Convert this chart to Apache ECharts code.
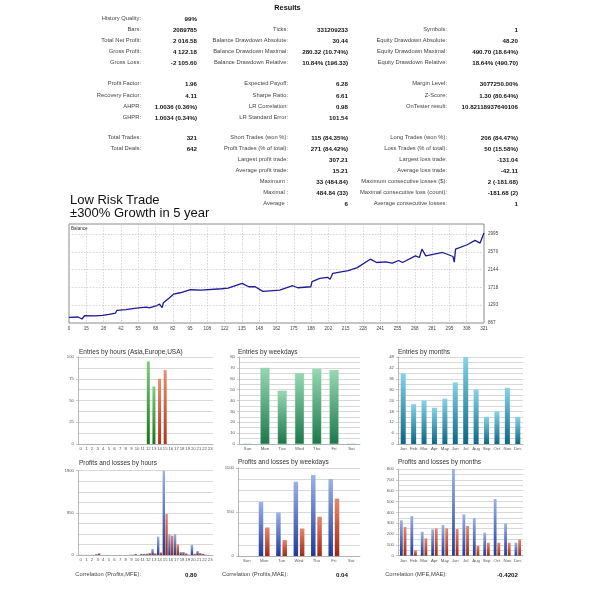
<!DOCTYPE html>
<html><head><meta charset="utf-8">
<script src="https://cdn.jsdelivr.net/npm/echarts@6/dist/echarts.min.js"></script>
<style>
html,body{margin:0;padding:0;background:#fff;}
#wrap{position:relative;width:600px;height:600px;overflow:hidden;background:#fff;font-family:"Liberation Sans",Arial,sans-serif;}
#chart{position:absolute;left:0;top:0;width:600px;height:600px;}
#txt{position:absolute;left:0;top:0;width:600px;height:600px;pointer-events:none;}
.t{position:absolute;white-space:nowrap;line-height:1;transform:translateY(-50%);}
.lab{font-size:5.8px;color:#444;}
.val{font-size:6.2px;color:#111;font-weight:bold;}
.head{font-size:7.3px;color:#111;font-weight:bold;}
.big{font-size:13px;color:#111;}
</style></head><body>
<div id="wrap"><div id="chart"></div><div id="txt"></div></div>
<script>
// ---------- report table ----------
const col1Labels = ['History Quality:','Bars:','Total Net Profit:','Gross Profit:','Gross Loss:','Profit Factor:','Recovery Factor:','AHPR:','GHPR:','Total Trades:','Total Deals:','','','','',''];
const col1Values = ['99%','2089785','2 016.58','4 122.18','-2 105.60','1.96','4.11','1.0036 (0.36%)','1.0034 (0.34%)','321','642','','','','',''];
const col2Labels = ['','Ticks:','Balance Drawdown Absolute:','Balance Drawdown Maximal:','Balance Drawdown Relative:','Expected Payoff:','Sharpe Ratio:','LR Correlation:','LR Standard Error:','Short Trades (won %):','Profit Trades (% of total):','Largest profit trade:','Average profit trade:','Maximum :','Maximal :','Average :'];
const col2Values = ['','331209233','30.44','280.32 (10.74%)','10.84% (196.33)','6.28','6.61','0.98','101.54','115 (84.35%)','271 (84.42%)','307.21','15.21','33 (484.84)','484.84 (33)','6'];
const col3Labels = ['','Symbols:','Equity Drawdown Absolute:','Equity Drawdown Maximal:','Equity Drawdown Relative:','Margin Level:','Z-Score:','OnTester result:','','Long Trades (won %):','Loss Trades (% of total):','Largest loss trade:','Average loss trade:','Maximum consecutive losses ($):','Maximal consecutive loss (count):','Average consecutive losses:'];
const col3Values = ['','1','48.20','490.70 (18.64%)','18.64% (490.70)','3077250.00%','1.30 (80.64%)','10.82118937640106','','206 (84.47%)','50 (15.58%)','-131.04','-42.11','2 (-181.68)','-181.68 (2)','1'];
const corrLabels = ['Correlation (Profits,MFE):','Correlation (Profits,MAE):','Correlation (MFE,MAE):'];
const corrValues = ['0.80','0.04','-0.4202'];
const reportTitle = 'Results';
const headline = ['Low Risk Trade','\u00b1300% Growth in 5 year'];

// ---------- balance curve ----------
const balanceTrade = [0,7,10,12,20,26,31,36,37,44,52,60,62,68,70,72,73,78,81,86,94,102,118,123,134,139,144,150,163,173,177,187,188,194,200,202,204,216,223,233,238,245,250,255,258,268,271,273,276,289,297,298,299,308,314,318,320,321];
const balanceValue = [1000,1010,963,1040,1035,1050,1075,1105,1170,1185,1225,1245,1230,1285,1317,1236,1350,1477,1558,1590,1662,1654,1686,1702,1815,1734,1734,1622,1654,1758,1710,1734,1855,1935,1959,1911,2055,2120,2192,2393,2313,2329,2297,2361,2313,2473,2433,2634,2473,2553,2457,2320,2634,2738,2842,2778,2939,3017];
const balanceXTicks = ['0','15','28','42','55','68','82','95','108','122','135','148','162','175','188','202','215','228','241','255','268','281','295','308','321'];
const balanceYTicks = [867,1293,1718,2144,2570,2995];

// ---------- distributions ----------
const hours = ['0','1','2','3','4','5','6','7','8','9','10','11','12','13','14','15','16','17','18','19','20','21','22','23'];
const entriesByHour = [0,0,0,0,0,0,0,0,0,0,0,0,95,66,75,85,0,0,0,0,0,0,0,0];
const weekdays = ['Sun','Mon','Tue','Wed','Thu','Fri','Sat'];
const entriesByWeekday = [0,70,49,65,69,68,0];
const months = ['Jan','Feb','Mar','Apr','May','Jun','Jul','Aug','Sep','Oct','Nov','Dec'];
const entriesByMonth = [39,22,24,20,25,34,48,30,15,18,31,15];
const profitByHour = [5,4,4,20,0,0,0,0,0,10,25,30,30,135,413,1900,466,473,68,40,225,90,30,0];
const lossByHour =   [3,3,3,40,0,0,0,0,0,10,5,25,45,40,60,924,436,240,68,10,30,45,10,0];
const profitByWeekday = [0,675,545,928,1012,962,0];
const lossByWeekday =   [0,356,199,343,490,718,0];
const profitByMonth = [326,366,221,243,283,800,381,348,212,523,298,120];
const lossByMonth =   [265,49,160,252,252,246,274,92,120,120,120,150];
const chartTitles = ['Entries by hours (Asia,Europe,USA)','Entries by weekdays','Entries by months','Profits and losses by hours','Profits and losses by weekdays','Profits and losses by months'];

// ---------- text layout ----------
const txt = document.getElementById('txt');
function put(text, x, y, cls, align) {
  if (!text) return;
  const s = document.createElement('span');
  s.className = 't ' + cls;
  s.textContent = text;
  if (align === 'right') s.style.right = (600 - x) + 'px';
  else if (align === 'center') { s.style.left = x + 'px'; s.style.transform = 'translate(-50%,-50%)'; }
  else s.style.left = x + 'px';
  s.style.top = y + 'px';
  txt.appendChild(s);
}
const rowY = [19,30,41,52,63,84,95.5,106.5,117.5,138,149,160,171,182,193,204];
const cols = [[141,197,col1Labels,col1Values],[288,348,col2Labels,col2Values],[447,518,col3Labels,col3Values]];
put(reportTitle, 287.5, 7.5, 'head', 'center');
cols.forEach(c => {
  rowY.forEach((y, i) => {
    put(c[2][i], c[0], y, 'lab', 'right');
    put(c[3][i], c[1], y, 'val', 'right');
  });
});
corrLabels.forEach((l, i) => {
  put(l, cols[i][0], 575, 'lab', 'right');
  put(corrValues[i], cols[i][1], 575, 'val', 'right');
});
put(headline[0], 70, 198.5, 'big', 'left');
put(headline[1], 70, 212, 'big', 'left');

// ---------- chart ----------
const G = echarts.graphic.LinearGradient;
const grad = (a, b) => new G(0, 0, 0, 1, [{offset: 0, color: a}, {offset: 1, color: b}]);
const blueG = grad('#9bb3e6', '#1d3b9e');
const redG = grad('#e8866c', '#a02a12');
const sessionColor = h => (h >= 14 ? grad('#ee8e70', '#b0321a') : (h >= 8 ? grad('#7fcf7f', '#167516') : grad('#8fb0e8', '#1d3b9e')));
const plain = v => String(v);

const chart = echarts.init(document.getElementById('chart'), null, {renderer: 'canvas'});
const fontF = '"Liberation Sans", Arial, sans-serif';
const grids = [
  {left: 69, top: 224, width: 415, height: 99, show: true, borderColor: '#8c8c8c', borderWidth: 1},
  {left: 78, top: 357, width: 135, height: 87},
  {left: 239, top: 357, width: 121, height: 87},
  {left: 398, top: 357, width: 125, height: 87},
  {left: 78, top: 470.7, width: 135, height: 84.3},
  {left: 238, top: 468, width: 122, height: 88},
  {left: 398, top: 469, width: 125, height: 86.7}
];
function smallX(i, cats) {
  return {type: 'category', gridIndex: i, data: cats,
    axisLine: {lineStyle: {color: '#a8a8a8', width: 0.8}}, axisTick: {show: false},
    axisLabel: {interval: 0, fontSize: 4.3, color: '#555', margin: 3, fontFamily: fontF}};
}
function smallY(i, max, interval, minorN) {
  return {type: 'value', gridIndex: i, min: 0, max: max, interval: interval,
    axisLine: {show: true, lineStyle: {color: '#a8a8a8', width: 0.8}},
    axisTick: {show: true, length: 2, lineStyle: {color: '#a8a8a8', width: 0.6}},
    axisLabel: {fontSize: 4.3, color: '#555', margin: 4, fontFamily: fontF, formatter: plain},
    splitLine: {lineStyle: {color: '#c8c8c8', width: 0.7}},
    minorTick: {show: false, splitNumber: minorN},
    minorSplitLine: {show: true, lineStyle: {color: '#c8c8c8', width: 0.7}}};
}
const titlePos = [[79,352],[238,352],[398,352],[79,463],[238,462],[398,462]];
const titles = chartTitles.map((t, i) => ({text: t, left: titlePos[i][0], top: titlePos[i][1] - 3.3, padding: 0,
  textStyle: {fontSize: 6.5, fontWeight: 'normal', color: '#333', fontFamily: fontF}}));
titles.push({text: 'Balance', left: 71, top: 226, padding: 0, textStyle: {fontSize: 4.6, fontWeight: 'normal', color: '#333', fontFamily: fontF}});

const option = {
  animation: false,
  backgroundColor: 'transparent',
  title: titles,
  grid: grids,
  xAxis: [
    {type: 'value', gridIndex: 0, min: 0, max: 321, interval: 13.375,
      axisLine: {show: false}, axisTick: {show: false},
      axisLabel: {fontSize: 4.6, color: '#444', margin: 3, fontFamily: fontF, showMaxLabel: true, showMinLabel: true,
        formatter: v => balanceXTicks[Math.round(v / 13.375)]},
      splitLine: {show: true, lineStyle: {color: '#c4c4c4', type: [1.5, 1.5], width: 0.7}}},
    smallX(1, hours), smallX(2, weekdays), smallX(3, months),
    smallX(4, hours), smallX(5, weekdays), smallX(6, months)
  ],
  yAxis: [
    {type: 'value', gridIndex: 0, position: 'right', min: 867, max: 3234,
      axisLine: {show: false},
      axisTick: {show: false, customValues: balanceYTicks},
      axisLabel: {customValues: balanceYTicks, fontSize: 4.6, color: '#444', margin: 4, fontFamily: fontF, formatter: plain},
      splitLine: {show: true, lineStyle: {color: '#c4c4c4', type: [1.5, 1.5], width: 0.7}}},
    smallY(1, 100, 25, 2), smallY(2, 80, 10, 2), smallY(3, 48, 6, 2),
    smallY(4, 1900, 950, 4), smallY(5, 1100, 550, 4), smallY(6, 800, 100, 2)
  ],
  series: [
    {type: 'line', xAxisIndex: 0, yAxisIndex: 0, data: balanceTrade.map((t, i) => [t, balanceValue[i]]),
      showSymbol: false, lineStyle: {color: '#1b1b96', width: 1.3}, itemStyle: {color: '#1b1b96'}},
    {type: 'bar', xAxisIndex: 1, yAxisIndex: 1, barWidth: 3,
      data: entriesByHour.map((v, h) => ({value: v, itemStyle: {color: sessionColor(h)}}))},
    {type: 'bar', xAxisIndex: 2, yAxisIndex: 2, barWidth: 9, data: entriesByWeekday,
      itemStyle: {color: grad('#97d8b2', '#1c774a'), borderColor: '#7cc79a', borderWidth: 0.3}},
    {type: 'bar', xAxisIndex: 3, yAxisIndex: 3, barWidth: 5, data: entriesByMonth,
      itemStyle: {color: grad('#86d3e6', '#0b6786')}},
    {type: 'bar', xAxisIndex: 4, yAxisIndex: 4, barWidth: 2.4, barGap: '15%', data: profitByHour, itemStyle: {color: blueG}},
    {type: 'bar', xAxisIndex: 4, yAxisIndex: 4, barWidth: 2.4, barGap: '15%', data: lossByHour, itemStyle: {color: redG}},
    {type: 'bar', xAxisIndex: 5, yAxisIndex: 5, barWidth: 4.5, barGap: '40%', data: profitByWeekday, itemStyle: {color: blueG}},
    {type: 'bar', xAxisIndex: 5, yAxisIndex: 5, barWidth: 4.5, barGap: '40%', data: lossByWeekday, itemStyle: {color: redG}},
    {type: 'bar', xAxisIndex: 6, yAxisIndex: 6, barWidth: 2.8, barGap: '30%', data: profitByMonth, itemStyle: {color: blueG}},
    {type: 'bar', xAxisIndex: 6, yAxisIndex: 6, barWidth: 2.8, barGap: '30%', data: lossByMonth, itemStyle: {color: redG}}
  ]
};
chart.setOption(option);
</script></body></html>
